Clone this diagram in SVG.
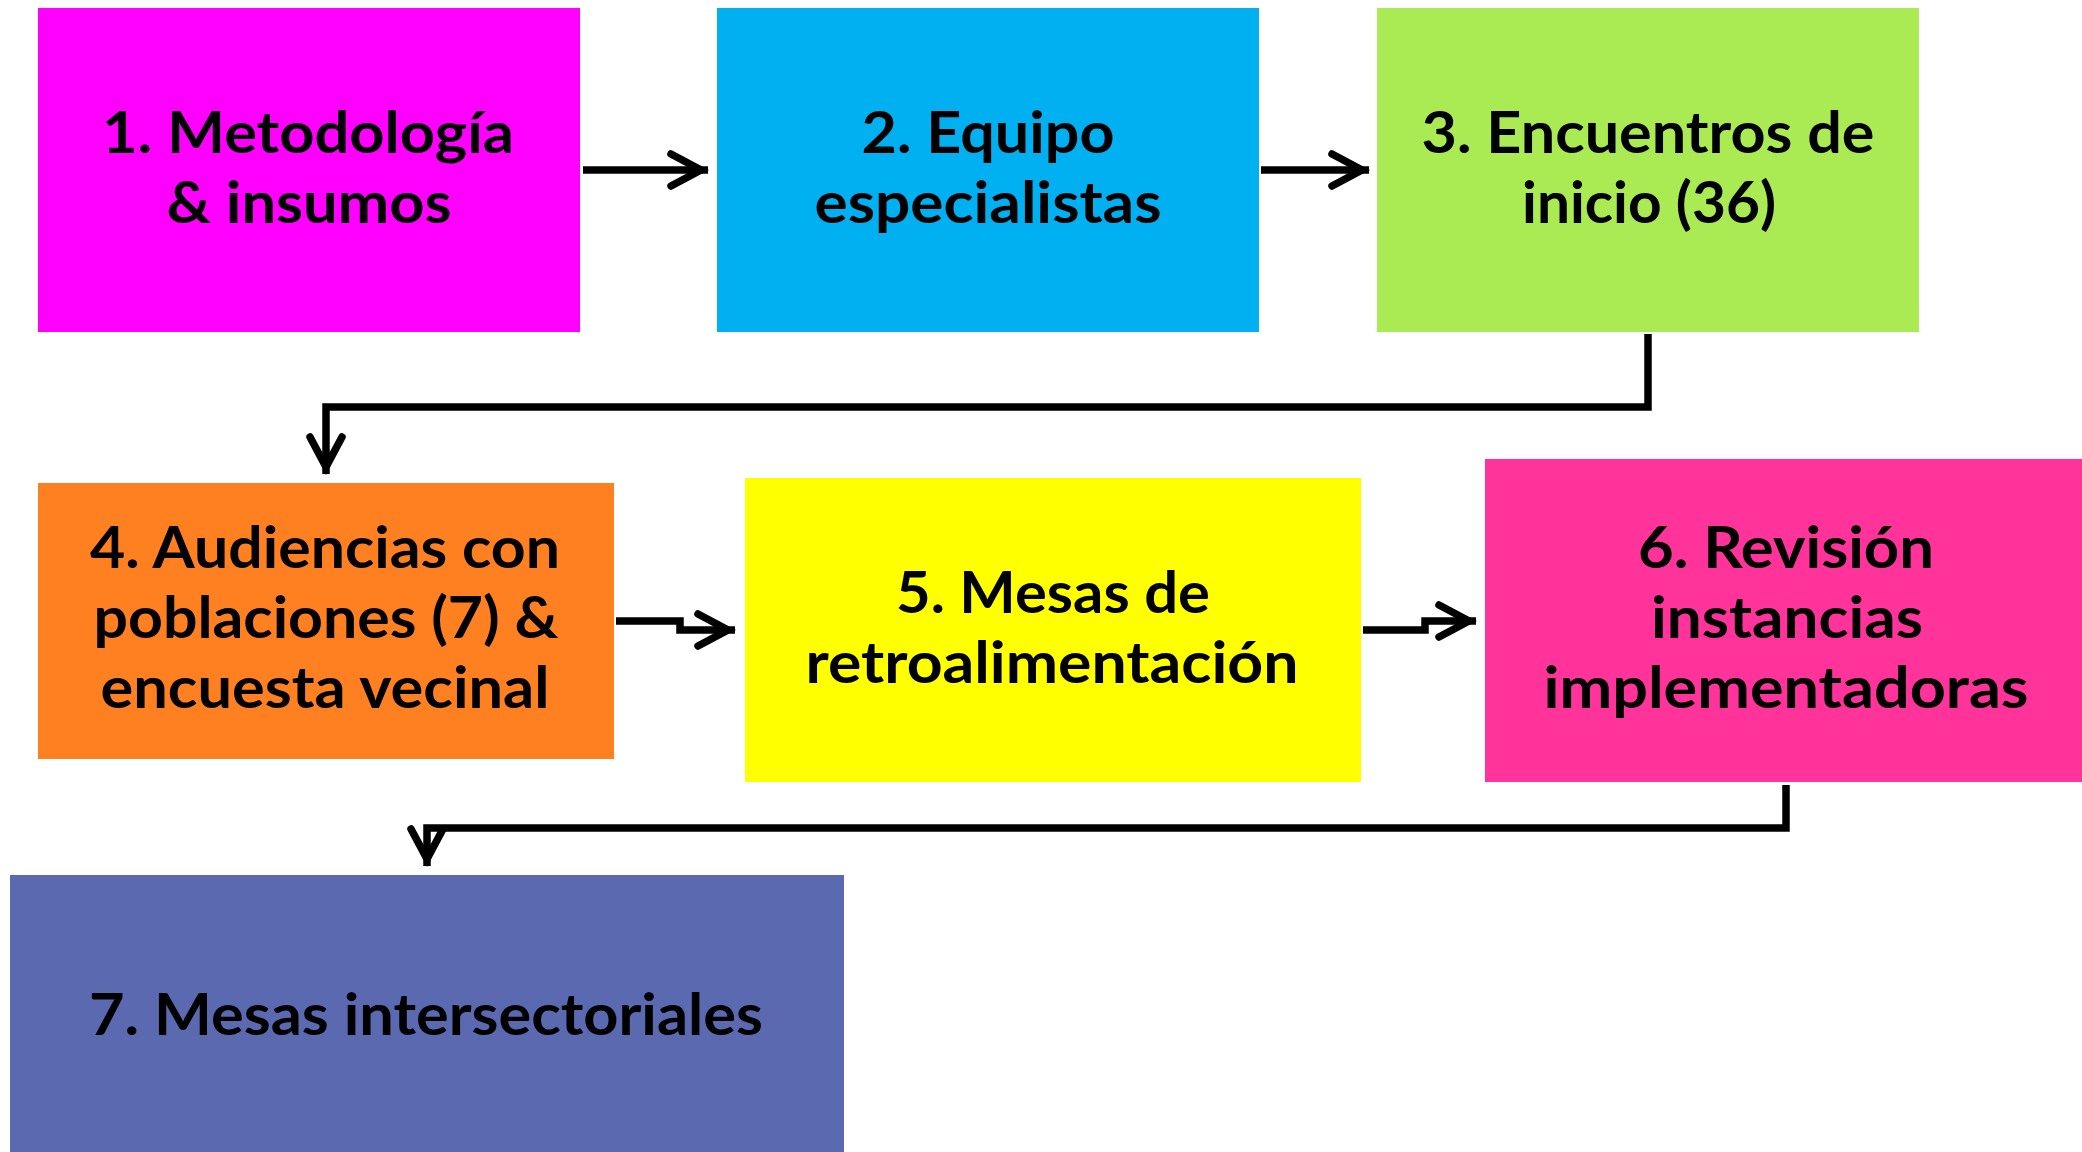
<svg xmlns="http://www.w3.org/2000/svg" width="2082" height="1152" viewBox="0 0 2082 1152">
  <style>
    .lbl { font-family: Lato, "Open Sans", "Liberation Sans", sans-serif; font-weight: 700; font-size: 58px; fill: #000; text-anchor: middle; }
    .conn { fill: none; stroke: #000; stroke-width: 7.5; stroke-linejoin: miter; stroke-linecap: butt; }
  </style>
  <defs>
    <marker id="chev" markerUnits="userSpaceOnUse" viewBox="-50 -25 60 50" markerWidth="60" markerHeight="50" refX="0" refY="0" orient="auto" overflow="visible">
      <path d="M-37,-16 L-7,0 L-37,16" fill="none" stroke="#000" stroke-width="7.5" stroke-linejoin="miter" stroke-linecap="round"/>
    </marker>
  </defs>
  <rect width="2082" height="1152" fill="#fff"/>

  <g id="node1">
    <rect x="38" y="8" width="542" height="324" fill="#FF00FF"/>
    <text class="lbl" x="308" y="153" textLength="412" lengthAdjust="spacingAndGlyphs">1. Metodología</text>
    <text class="lbl" x="309" y="223" textLength="285" lengthAdjust="spacingAndGlyphs">&amp; insumos</text>
  </g>
  <g id="node2">
    <rect x="717" y="8" width="542" height="324" fill="#00B0F0"/>
    <text class="lbl" x="988" y="153" textLength="253" lengthAdjust="spacingAndGlyphs">2. Equipo</text>
    <text class="lbl" x="988" y="223" textLength="347" lengthAdjust="spacingAndGlyphs">especialistas</text>
  </g>
  <g id="node3">
    <rect x="1377" y="8" width="542" height="324" fill="#AAEB53"/>
    <text class="lbl" x="1648" y="153" textLength="453" lengthAdjust="spacingAndGlyphs">3. Encuentros de</text>
    <text class="lbl" x="1649" y="223" textLength="254" lengthAdjust="spacingAndGlyphs">inicio (36)</text>
  </g>
  <g id="node4">
    <rect x="38" y="483" width="576" height="276" fill="#FF8021"/>
    <text class="lbl" x="325" y="568" textLength="470" lengthAdjust="spacingAndGlyphs">4. Audiencias con</text>
    <text class="lbl" x="326" y="638" textLength="465" lengthAdjust="spacingAndGlyphs">poblaciones (7) &amp;</text>
    <text class="lbl" x="325" y="708" textLength="449" lengthAdjust="spacingAndGlyphs">encuesta vecinal</text>
  </g>
  <g id="node5">
    <rect x="745" y="478" width="616" height="304" fill="#FFFF00"/>
    <text class="lbl" x="1053" y="613" textLength="314" lengthAdjust="spacingAndGlyphs">5. Mesas de</text>
    <text class="lbl" x="1052" y="683" textLength="493" lengthAdjust="spacingAndGlyphs">retroalimentación</text>
  </g>
  <g id="node6">
    <rect x="1485" y="459" width="602" height="323" fill="#FF3399"/>
    <text class="lbl" x="1786" y="568" textLength="296" lengthAdjust="spacingAndGlyphs">6. Revisión</text>
    <text class="lbl" x="1787" y="638" textLength="272" lengthAdjust="spacingAndGlyphs">instancias</text>
    <text class="lbl" x="1786" y="708" textLength="485" lengthAdjust="spacingAndGlyphs">implementadoras</text>
  </g>
  <g id="node7">
    <rect x="10" y="875" width="834" height="290" fill="#5A69B0"/>
    <text class="lbl" x="426" y="1035" textLength="674" lengthAdjust="spacingAndGlyphs">7. Mesas intersectoriales</text>
  </g>

  <g id="connectors">
    <path class="conn" d="M583,170 H708" marker-end="url(#chev)"/>
    <path class="conn" d="M1261,170 H1369" marker-end="url(#chev)"/>
    <path class="conn" d="M1648,334 V407 H326 V474" marker-end="url(#chev)"/>
    <path class="conn" d="M616,621 H680 V630 H735" marker-end="url(#chev)"/>
    <path class="conn" d="M1363,630 H1425 V621 H1476" marker-end="url(#chev)"/>
    <path class="conn" d="M1786,785 V828 H427 V866" marker-end="url(#chev)"/>
  </g>
</svg>
